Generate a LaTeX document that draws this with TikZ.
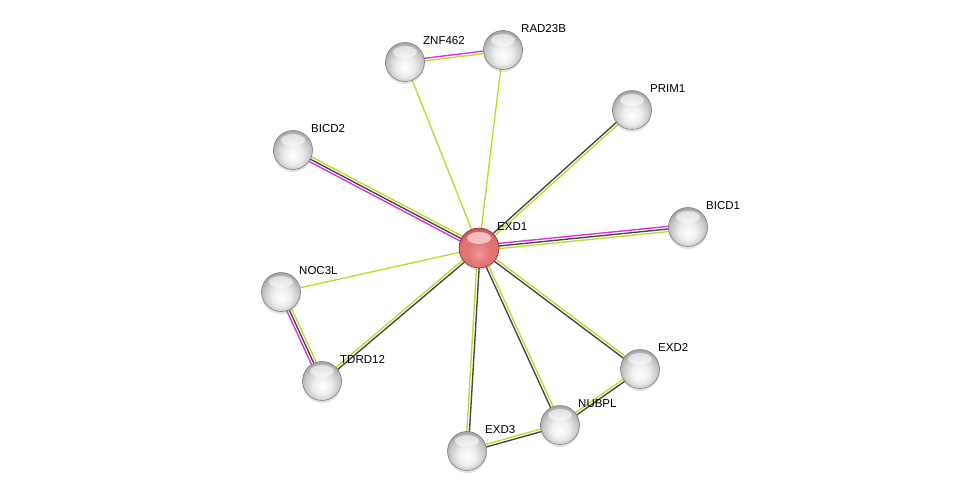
\documentclass[tikz,border=0pt]{standalone}
\usepackage{fontspec}
\setmainfont{Liberation Sans}
\usetikzlibrary{calc,shadows}
\pgfdeclarelayer{bg}
\pgfdeclarelayer{paper}
\pgfsetlayers{paper,bg,main}
\definecolor{sgreen}{RGB}{190,218,45}
\definecolor{sdark}{RGB}{68,68,68}
\definecolor{smag}{RGB}{222,45,222}
\definecolor{rcen}{RGB}{246,150,150}
\definecolor{rmid}{RGB}{222,112,112}
\definecolor{rrim}{RGB}{170,62,62}
\pgfdeclareradialshading{grayball}{\pgfpoint{0bp}{-8bp}}{color(0bp)=(white); color(12bp)=(white!93!black); color(22bp)=(white!78!black); color(30bp)=(white!60!black); color(50bp)=(white!55!black)}
\pgfdeclareradialshading{redball}{\pgfpoint{0bp}{-8bp}}{color(0bp)=(rcen); color(14bp)=(rmid!85!rcen); color(24bp)=(rmid); color(31bp)=(rrim); color(50bp)=(rrim)}
\newcommand{\sline}[4]{\draw[edge,#4] ($(#1.center)!#3!90:(#2.center)$) -- ($(#2.center)!#3!-90:(#1.center)$);}
\tikzset{
  edge/.style={line width=1.35pt},
  ball/.style={circle, minimum size=39pt, inner sep=0pt, shading=grayball, draw=black!50, line width=0.6pt,
    drop shadow={opacity=0.22, shadow xshift=0pt, shadow yshift=-2.5pt},
    path picture={\fill[white,opacity=0.55] ($(path picture bounding box.center)+(0,-10)$) ellipse[x radius=12pt, y radius=6pt];}},
  redb/.style={ball, minimum size=40pt, shading=redball, draw=rrim!80!black},
  lbl/.style={font=\fontsize{11.5}{13}\selectfont, inner sep=0pt, text height=8.2pt, text depth=0pt, anchor=west}
}
\begin{document}
\begin{tikzpicture}[x=1pt,y=-1pt]
\useasboundingbox (0,0) rectangle (976,496);
\begin{pgfonlayer}{paper}
\fill[white] (0,0) rectangle (976,496);
\end{pgfonlayer}
% nodes
\node[redb] (EXD1) at (479,248) {};
\node[ball] (ZNF462) at (405,62) {};
\node[ball] (RAD23B) at (503,50) {};
\node[ball] (PRIM1) at (632,110) {};
\node[ball] (BICD2) at (293,150) {};
\node[ball] (BICD1) at (688,227) {};
\node[ball] (NOC3L) at (281,292) {};
\node[ball] (TDRD12) at (322,381) {};
\node[ball] (EXD2) at (640,369) {};
\node[ball] (NUBPL) at (560,425) {};
\node[ball] (EXD3) at (467,451) {};
% labels
\foreach \n in {EXD1,ZNF462,RAD23B,PRIM1,BICD2,BICD1,NOC3L,TDRD12,EXD2,NUBPL,EXD3}{
  \node[lbl] (l\n) at ($(\n.center)+(18,-22)$) {\n};
}
% edges
\begin{pgfonlayer}{bg}
\sline{EXD1}{ZNF462}{0pt}{sgreen}
\sline{EXD1}{RAD23B}{0pt}{sgreen}
\sline{ZNF462}{RAD23B}{1.3pt}{smag}
\sline{ZNF462}{RAD23B}{-1.3pt}{sgreen}
\sline{EXD1}{PRIM1}{1.3pt}{sdark}
\sline{EXD1}{PRIM1}{-1.3pt}{sgreen}
\sline{EXD1}{BICD2}{2.6pt}{smag}
\sline{EXD1}{BICD2}{0pt}{sdark}
\sline{EXD1}{BICD2}{-2.6pt}{sgreen}
\sline{EXD1}{BICD1}{2.6pt}{smag}
\sline{EXD1}{BICD1}{0pt}{sdark}
\sline{EXD1}{BICD1}{-2.6pt}{sgreen}
\sline{EXD1}{NOC3L}{0pt}{sgreen}
\sline{EXD1}{TDRD12}{1.3pt}{sdark}
\sline{EXD1}{TDRD12}{-1.3pt}{sgreen}
\sline{NOC3L}{TDRD12}{2.6pt}{sgreen}
\sline{NOC3L}{TDRD12}{0pt}{sdark}
\sline{NOC3L}{TDRD12}{-2.6pt}{smag}
\sline{EXD1}{EXD3}{1.3pt}{sdark}
\sline{EXD1}{EXD3}{-1.3pt}{sgreen}
\sline{EXD1}{NUBPL}{1.3pt}{sgreen}
\sline{EXD1}{NUBPL}{-1.3pt}{sdark}
\sline{EXD1}{EXD2}{1.3pt}{sgreen}
\sline{EXD1}{EXD2}{-1.3pt}{sdark}
\sline{NUBPL}{EXD2}{1.3pt}{sgreen}
\sline{NUBPL}{EXD2}{-1.3pt}{sdark}
\sline{EXD3}{NUBPL}{1.3pt}{sgreen}
\sline{EXD3}{NUBPL}{-1.3pt}{sdark}
\end{pgfonlayer}
\end{tikzpicture}
\end{document}
